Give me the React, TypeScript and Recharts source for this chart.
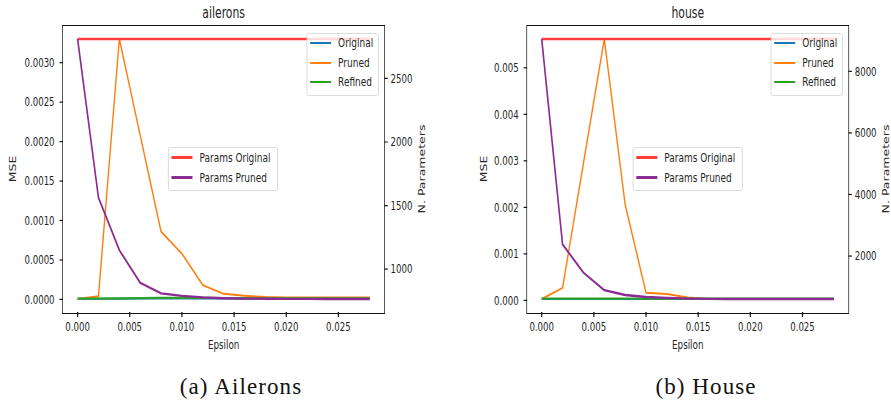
import { LineChart, Line, XAxis, YAxis } from 'recharts';

// epsilon grid shared by both datasets
const epsilon = [0, 0.002, 0.004, 0.006, 0.008, 0.01, 0.012, 0.014, 0.016, 0.018, 0.02, 0.022, 0.024, 0.026, 0.028];
const epsilonTicks = [0, 0.005, 0.01, 0.015, 0.02, 0.025];

// ailerons
const aileronsOriginal = [0.000008, 0.000008, 0.000009, 0.00001, 0.00001, 0.00001, 0.00001, 0.00001, 0.00001, 0.00001, 0.00001, 0.00001, 0.00001, 0.00001, 0.00001];
const aileronsPruned = [0.000005, 0.00004, 0.0033, 0.00208, 0.00086, 0.00058, 0.00018, 0.00007, 0.000045, 0.00003, 0.000025, 0.000025, 0.000025, 0.000025, 0.000025];
const aileronsRefined = [0.00001, 0.00001, 0.000012, 0.000015, 0.00002, 0.00002, 0.000018, 0.000015, 0.000013, 0.000012, 0.000012, 0.000012, 0.000012, 0.000012, 0.000012];
const aileronsParamsOriginal = [2810, 2810, 2810, 2810, 2810, 2810, 2810, 2810, 2810, 2810, 2810, 2810, 2810, 2810, 2810];
const aileronsParamsPruned = [2810, 1562, 1149, 892, 809, 790, 777, 771, 768, 767, 766, 766, 765, 765, 765];
const aileronsMseTicks = [0, 0.0005, 0.001, 0.0015, 0.002, 0.0025, 0.003];
const aileronsParamTicks = [1000, 1500, 2000, 2500];

// house
const houseOriginal = [0.00003, 0.00003, 0.00003, 0.00003, 0.00003, 0.00003, 0.00003, 0.00003, 0.00003, 0.00003, 0.00003, 0.00003, 0.00003, 0.00003, 0.00003];
const housePruned = [0.00003, 0.00027, 0.00295, 0.00562, 0.00206, 0.000165, 0.000135, 0.00006, 0.00003, 0.00003, 0.00003, 0.00003, 0.00003, 0.00003, 0.00003];
const houseRefined = [0.00004, 0.00004, 0.00004, 0.00004, 0.00004, 0.00004, 0.00004, 0.00004, 0.00004, 0.00004, 0.00004, 0.00004, 0.00004, 0.00004, 0.00004];
const houseParamsOriginal = [9050, 9050, 9050, 9050, 9050, 9050, 9050, 9050, 9050, 9050, 9050, 9050, 9050, 9050, 9050];
const houseParamsPruned = [9050, 2380, 1460, 890, 735, 670, 640, 620, 606, 605, 605, 605, 605, 605, 605];
const houseMseTicks = [0, 0.001, 0.002, 0.003, 0.004, 0.005];
const houseParamTicks = [2000, 4000, 6000, 8000];

// the source figure is squeezed horizontally, so everything is laid out wide and scaled down
const SQUASH = 0.7;
const CHART_W = 636;
const CHART_H = 360;
const PLOT_TOP = 26;
const X_AXIS_H = 48;
const FONT = "'DejaVu Sans', sans-serif";
const INK = '#262626';
const AXIS = '#111';

const BLUE = '#1f77b4';
const ORANGE = '#ff7f0e';
const GREEN = '#2ca02c';
const RED = '#ff3c3c';
const PURPLE = '#8a2a92';

// matplotlib-style 5% margins
function pad(values: number[]): [number, number] {
  const lo = Math.min(...values);
  const hi = Math.max(...values);
  const m = (hi - lo) * 0.05;
  return [lo - m, hi + m];
}

const tickStyle = { fill: INK, fontSize: 12.3, fontFamily: FONT };

function LegendBox({ left, top, width, height, items }: any) {
  return (
    <div
      style={{
        position: 'absolute', left, top, width, height, boxSizing: 'border-box',
        background: 'rgba(255,255,255,0.8)', border: '1px solid #d4d4d4', borderRadius: 3,
      }}
    >
      {items.map((it: any, i: number) => (
        <div key={i}>
          <div
            style={{
              position: 'absolute', left: it.sample - left, top: it.y - top - 1.25 - 1,
              width: 30, height: 2.5, background: it.color,
            }}
          />
          <div
            style={{
              position: 'absolute', left: it.text - left, top: it.y - top - 10 - 1, height: 20,
              lineHeight: '20px', fontSize: 12.8, fontFamily: FONT, color: INK, whiteSpace: 'nowrap',
            }}
          >
            {it.label}
          </div>
        </div>
      ))}
    </div>
  );
}

function Panel({ x, title, mse, params, mseTicks, mseDigits, paramTicks, leftW, rightW, upperLegendX, midLegendX, mseLabelX, paramLabelX }: any) {
  const rows = epsilon.map((eps, i) => ({
    eps,
    original: mse.original[i],
    pruned: mse.pruned[i],
    refined: mse.refined[i],
    pOriginal: params.original[i],
    pPruned: params.pruned[i],
  }));
  const xDomain = pad(epsilon);
  const mseDomain = pad([...mse.original, ...mse.pruned, ...mse.refined]);
  const paramDomain = pad([...params.original, ...params.pruned]);
  const plotLeft = leftW;
  const plotRight = CHART_W - rightW;
  const plotBottom = CHART_H - X_AXIS_H;
  const cx = (plotLeft + plotRight) / 2;
  const side = 1.2 / SQUASH;

  const textBase: any = { position: 'absolute', fontFamily: FONT, color: INK, textAlign: 'center', whiteSpace: 'nowrap' };

  return (
    <div style={{ position: 'absolute', left: x, top: 0, width: CHART_W, height: CHART_H }}>
      <div style={{ position: 'absolute', left: 0, top: 0 }}>
        <LineChart width={CHART_W} height={CHART_H} data={rows} margin={{ top: PLOT_TOP, right: 0, bottom: 0, left: 0 }}>
          <XAxis
            dataKey="eps" type="number" domain={xDomain} ticks={epsilonTicks}
            tickFormatter={(v: number) => v.toFixed(3)} height={X_AXIS_H} tickSize={5} tickMargin={5}
            tick={tickStyle} axisLine={false} tickLine={{ stroke: AXIS, strokeWidth: side }}
          />
          <YAxis
            yAxisId="mse" type="number" domain={mseDomain} ticks={mseTicks}
            tickFormatter={(v: number) => v.toFixed(mseDigits)} width={leftW} tickSize={5} tickMargin={7}
            tick={tickStyle} axisLine={false} tickLine={{ stroke: AXIS, strokeWidth: 1.2 }}
          />
          <YAxis
            yAxisId="params" orientation="right" type="number" domain={paramDomain} ticks={paramTicks}
            width={rightW} tickSize={5} tickMargin={4}
            tick={tickStyle} axisLine={false} tickLine={{ stroke: AXIS, strokeWidth: 1.2 }}
          />
          <Line yAxisId="mse" dataKey="original" stroke={BLUE} strokeWidth={2} dot={false} isAnimationActive={false} />
          <Line yAxisId="mse" dataKey="pruned" stroke={ORANGE} strokeWidth={2} dot={false} isAnimationActive={false} />
          <Line yAxisId="mse" dataKey="refined" stroke={GREEN} strokeWidth={2.2} dot={false} isAnimationActive={false} />
          <Line yAxisId="params" dataKey="pOriginal" stroke={RED} strokeWidth={2.6} dot={false} isAnimationActive={false} />
          <Line yAxisId="params" dataKey="pPruned" stroke={PURPLE} strokeWidth={2.3} dot={false} isAnimationActive={false} />
        </LineChart>
      </div>

      {/* axes frame (all four spines), drawn over the chart */}
      <div
        style={{
          position: 'absolute', left: plotLeft - side / 2, top: PLOT_TOP - 1, boxSizing: 'border-box',
          width: plotRight - plotLeft + side, height: plotBottom - PLOT_TOP + 2.5,
          borderStyle: 'solid', borderColor: AXIS, borderWidth: `1.5px ${side}px 1.5px ${side}px`,
        }}
      />

      <div style={{ ...textBase, left: cx - 100, top: 3, width: 200, lineHeight: '20px', fontSize: 15.5 }}>{title}</div>
      <div style={{ ...textBase, left: cx - 100, top: 335, width: 200, lineHeight: '20px', fontSize: 12.5 }}>Epsilon</div>
      <div style={{ ...textBase, left: mseLabelX - 60, top: 159, width: 120, lineHeight: '20px', fontSize: 12.5, transform: 'rotate(-90deg)' }}>MSE</div>
      <div style={{ ...textBase, left: paramLabelX - 60, top: 159, width: 120, lineHeight: '20px', fontSize: 12.5, transform: 'rotate(-90deg)' }}>N. Parameters</div>

      <LegendBox
        left={upperLegendX} top={33} width={103} height={63}
        items={[
          { label: 'Original', color: BLUE, y: 43, sample: upperLegendX + 4, text: upperLegendX + 44 },
          { label: 'Pruned', color: ORANGE, y: 63, sample: upperLegendX + 4, text: upperLegendX + 44 },
          { label: 'Refined', color: GREEN, y: 82, sample: upperLegendX + 4, text: upperLegendX + 44 },
        ]}
      />
      <LegendBox
        left={midLegendX} top={147} width={157} height={44}
        items={[
          { label: 'Params Original', color: RED, y: 157.5, sample: midLegendX + 4, text: midLegendX + 44 },
          { label: 'Params Pruned', color: PURPLE, y: 177.5, sample: midLegendX + 4, text: midLegendX + 44 },
        ]}
      />
    </div>
  );
}

export default function App() {
  return (
    <div style={{ position: 'absolute', left: 0, top: 0, width: 891, height: 404, background: '#fff', overflow: 'hidden' }}>
      <div style={{ position: 'absolute', left: 0, top: 0, width: CHART_W * 2 + 1, height: CHART_H, transform: `scaleX(${SQUASH})`, transformOrigin: '0 0' }}>
        <Panel
          x={0} title="ailerons"
          mse={{ original: aileronsOriginal, pruned: aileronsPruned, refined: aileronsRefined }}
          params={{ original: aileronsParamsOriginal, pruned: aileronsParamsPruned }}
          mseTicks={aileronsMseTicks} mseDigits={4} paramTicks={aileronsParamTicks}
          leftW={90} rightW={87} upperLegendX={438} midLegendX={240} mseLabelX={19} paramLabelX={603}
        />
        <Panel
          x={637} title="house"
          mse={{ original: houseOriginal, pruned: housePruned, refined: houseRefined }}
          params={{ original: houseParamsOriginal, pruned: houseParamsPruned }}
          mseTicks={houseMseTicks} mseDigits={3} paramTicks={houseParamTicks}
          leftW={116} rightW={61} upperLegendX={464} midLegendX={267} mseLabelX={55} paramLabelX={629}
        />
      </div>
      <svg width={891} height={404} style={{ position: 'absolute', left: 0, top: 0, pointerEvents: 'none' }}>
        <text x={241} y={394} textAnchor="middle" fontFamily="'Liberation Serif', serif" fontSize={23} letterSpacing={1.1} fill="#111">(a) Ailerons</text>
        <text x={706} y={394} textAnchor="middle" fontFamily="'Liberation Serif', serif" fontSize={23} letterSpacing={1.1} fill="#111">(b) House</text>
      </svg>
    </div>
  );
}
